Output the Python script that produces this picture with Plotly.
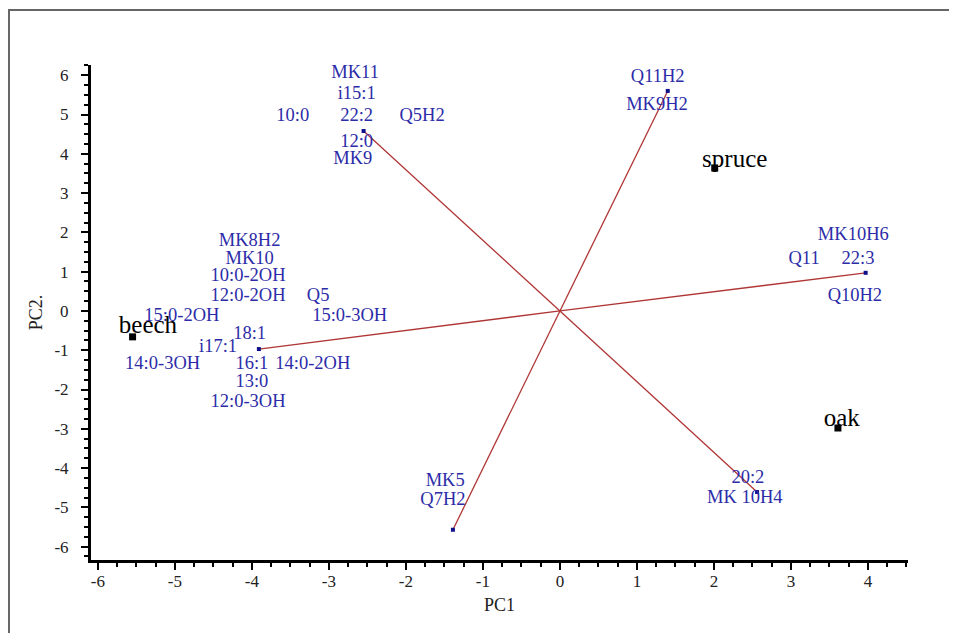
import plotly.graph_objects as go

# Loading vector endpoints (PC1, PC2)
load_x = [-2.55, 1.40, 3.97, -3.91, -1.39, 2.56]
load_y = [4.58, 5.60, 0.97, -0.97, -5.57, -4.61]

# Sample scores
samples = ["beech", "spruce", "oak"]
sample_x = [-5.55, 2.01, 3.61]
sample_y = [-0.66, 3.64, -2.98]
sample_lab_x = [-5.35, 2.27, 3.66]
sample_lab_y = [-0.41, 3.82, -2.77]

# Variable labels and their positions in PC space
var_labels = ["MK11", "i15:1", "22:2", "10:0", "Q5H2", "12:0", "MK9",
              "Q11H2", "MK9H2",
              "MK10H6", "Q11", "22:3", "Q10H2",
              "MK8H2", "MK10", "10:0-2OH", "12:0-2OH", "Q5", "15:0-2OH", "15:0-3OH",
              "18:1", "i17:1", "14:0-3OH", "16:1", "14:0-2OH", "13:0", "12:0-3OH",
              "MK5", "Q7H2",
              "20:2", "MK 10H4"]
var_x = [-2.66, -2.64, -2.64, -3.47, -1.79, -2.64, -2.69,
         1.27, 1.26,
         3.81, 3.17, 3.87, 3.83,
         -4.03, -4.03, -4.05, -4.05, -3.14, -4.91, -2.73,
         -4.03, -4.44, -5.16, -4.00, -3.21, -4.00, -4.05,
         -1.49, -1.52,
         2.44, 2.40]
var_y = [6.06, 5.52, 4.94, 4.94, 4.94, 4.30, 3.87,
         5.95, 5.22,
         1.93, 1.32, 1.32, 0.38,
         1.78, 1.32, 0.87, 0.38, 0.38, -0.13, -0.13,
         -0.59, -0.92, -1.35, -1.35, -1.35, -1.83, -2.32,
         -4.35, -4.81,
         -4.25, -4.78]

x_ticks = [-6, -5, -4, -3, -2, -1, 0, 1, 2, 3, 4]
x_tick_text = ["-6", "-5", "-4", "-3", "-2", "-1", "0", "1", "2", "3", "4"]
y_ticks = [-6, -5, -4, -3, -2, -1, 0, 1, 2, 3, 4, 5, 6]
y_tick_text = ["-6", "-5", "-4", "-3", "-2", "-1", "0", "1", "2", "3", "4", "5", "6"]

SERIF = "Liberation Serif, Times New Roman, serif"
BLUE = "#2c2ca8"
RED = "#b03535"

fig = go.Figure()

for lx, ly in zip(load_x, load_y):
    fig.add_trace(go.Scatter(x=[0, lx], y=[0, ly], mode="lines",
                             line=dict(color=RED, width=1.3),
                             hoverinfo="skip", showlegend=False))

fig.add_trace(go.Scatter(x=load_x, y=load_y, mode="markers",
                         marker=dict(symbol="square", size=4, color="#10108a"),
                         showlegend=False))

fig.add_trace(go.Scatter(x=var_x, y=var_y, mode="text", text=var_labels,
                         textposition="middle center",
                         textfont=dict(family=SERIF, size=18.5, color=BLUE),
                         showlegend=False))

fig.add_trace(go.Scatter(x=sample_x, y=sample_y, mode="markers",
                         marker=dict(symbol="square", size=7, color="black"),
                         showlegend=False))

fig.add_trace(go.Scatter(x=sample_lab_x, y=sample_lab_y, mode="text", text=samples,
                         textposition="middle center",
                         textfont=dict(family=SERIF, size=25, color="black"),
                         showlegend=False))

axis_common = dict(
    showgrid=False, zeroline=False, showline=True, linecolor="black", linewidth=3,
    ticks="outside", ticklen=7, tickwidth=2, tickcolor="black", automargin=False,
    tickfont=dict(family=SERIF, size=17, color="#222222"),
    minor=dict(ticks="outside", ticklen=4, tickwidth=1.5, tickcolor="black", dtick=0.25),
)

fig.update_xaxes(range=[-6.09, 4.52], tickvals=x_ticks, ticktext=x_tick_text,
                 ticklabelstandoff=-3,
                 title=dict(text="PC1", font=dict(family=SERIF, size=18, color="#222222"),
                            standoff=8),
                 **axis_common)
fig.update_yaxes(range=[-6.34, 6.26], tickvals=y_ticks, ticktext=y_tick_text,
                 ticklabelstandoff=9,
                 title=dict(text="PC2.", font=dict(family=SERIF, size=18, color="#222222"),
                            standoff=8),
                 **axis_common)

fig.add_shape(type="rect", xref="paper", yref="paper",
              x0=-0.1004, x1=1.2, y0=-0.3, y1=1.111,
              line=dict(color="#666666", width=2), layer="below")

fig.update_layout(
    width=949, height=625,
    margin=dict(l=83, r=49, t=57, b=73),
    paper_bgcolor="white", plot_bgcolor="white",
    showlegend=False,
)

fig.write_html("out.html")
